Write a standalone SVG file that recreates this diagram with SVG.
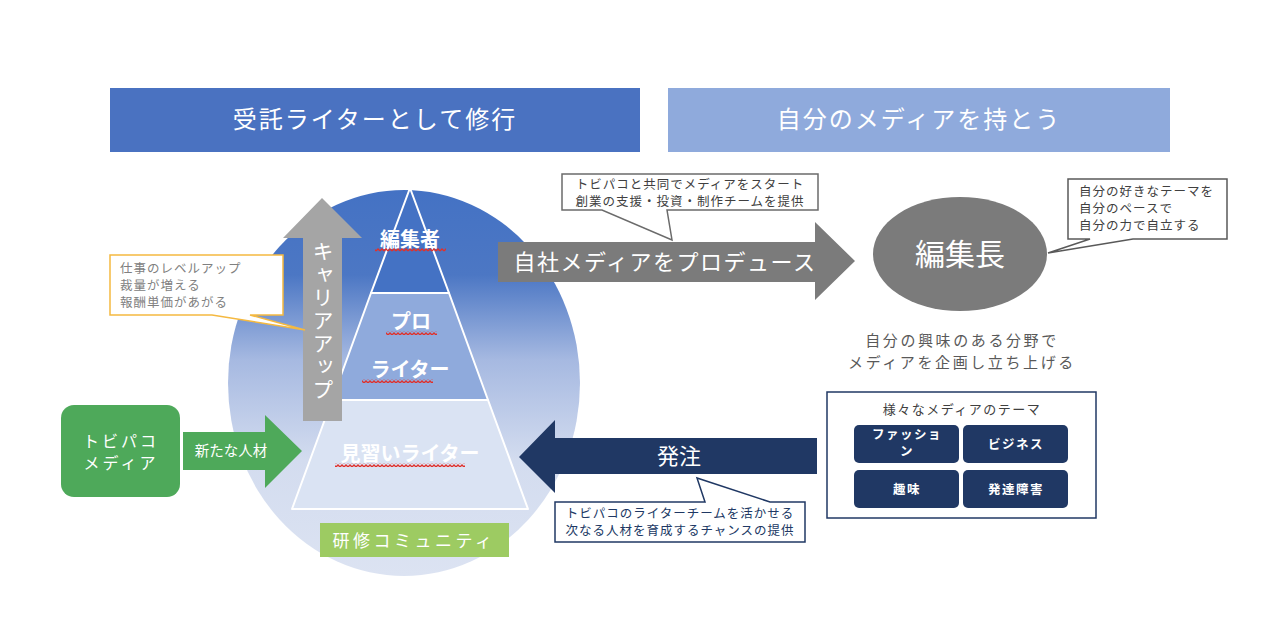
<svg xmlns="http://www.w3.org/2000/svg" width="1280" height="618" viewBox="0 0 1280 618">
<defs>
<style>
text{font-family:"Noto Sans CJK JP","Noto Sans",sans-serif}
.hd{font-size:24px;letter-spacing:2px;text-anchor:middle;fill:#fff}
.co{font-size:12.5px;letter-spacing:1px}
.tier{font-size:20px;font-weight:bold;fill:#fff;text-anchor:middle}
.btn{fill:#203864}
.bt{font-size:12.5px;font-weight:bold;fill:#fff;text-anchor:middle;letter-spacing:1.5px}
.edge{stroke:#fff;stroke-width:2;stroke-linejoin:round}
</style>
<linearGradient id="cg" x1="0" y1="0" x2="0" y2="1">
<stop offset="0" stop-color="#4472c4"/>
<stop offset="0.22" stop-color="#4c77c4"/>
<stop offset="0.44" stop-color="#a6b9e1"/>
<stop offset="0.7" stop-color="#d3dcef"/>
<stop offset="1" stop-color="#dce3f2"/>
</linearGradient>
<pattern id="squig" width="4" height="4" patternUnits="userSpaceOnUse">
<path d="M0,3 L2,1 L4,3" fill="none" stroke="#e0302a" stroke-width="1.3"/>
</pattern>
</defs>
<rect width="1280" height="618" fill="#fff"/>

<g id="header-left">
<rect x="110" y="88" width="530" height="64" fill="#4a72c1"/>
<text class="hd" x="375" y="128">受託ライターとして修行</text>
</g>
<g id="header-right">
<rect x="668" y="88" width="502" height="64" fill="#8faadc"/>
<text class="hd" x="919" y="128">自分のメディアを持とう</text>
</g>

<g id="community-circle">
<ellipse cx="404" cy="383" rx="176" ry="193" fill="url(#cg)"/>
</g>

<g id="pyramid">
<polygon class="edge" points="410,188 371,293 449,293" fill="#4472c4"/>
<polygon class="edge" points="371,293 449,293 488,400 332,400" fill="#8faadc"/>
<polygon class="edge" points="332,400 488,400 528,509 292,509" fill="#dae3f3"/>
<text class="tier" x="410" y="247">編集者</text>
<rect x="375" y="248" width="71" height="4" fill="url(#squig)"/>
<text class="tier" x="411" y="329">プロ</text>
<rect x="386" y="331" width="51" height="4" fill="url(#squig)"/>
<text class="tier" x="410" y="377">ライター</text>
<rect x="362" y="379" width="71" height="4" fill="url(#squig)"/>
<text class="tier" x="410" y="461">見習いライター</text>
<rect x="335" y="463" width="130" height="4" fill="url(#squig)"/>
</g>

<g id="community-label">
<rect x="320" y="523" width="189" height="34" fill="#9dcb62"/>
<text x="414" y="547" font-size="17" letter-spacing="3.5" fill="#fff" text-anchor="middle">研修コミュニティ</text>
</g>

<g id="connectors">
<g id="career-up">
<polygon points="322,198 362,238 342,238 342,421 303,421 303,238 283,238" fill="#a5a5a5"/>
<text x="323" y="321" font-size="21" letter-spacing="2" fill="#fff" text-anchor="middle" style="writing-mode:vertical-rl;text-orientation:upright">キャリアアップ</text>
</g>
<g id="new-talent">
<polygon points="183,432 265,432 265,415 302,451 265,488 265,470 183,470" fill="#4ea95a"/>
<text x="231" y="456" font-size="14.5" fill="#fff" text-anchor="middle">新たな人材</text>
</g>
<g id="produce">
<polygon points="498,242 815,242 815,222 855,261 815,300 815,282 498,282" fill="#7b7b7b"/>
<text x="665" y="270" font-size="22" letter-spacing="1.5" fill="#fff" text-anchor="middle">自社メディアをプロデュース</text>
</g>
<g id="order">
<polygon points="817,438 555,438 555,420 519,457 555,493 555,474 817,474" fill="#203864"/>
<text x="679" y="464" font-size="22" fill="#fff" text-anchor="middle">発注</text>
</g>
</g>

<g id="callout-career">
<path d="M110,255 H283 V315 H250 L305,330 L212,315 H110 Z" fill="#fff" stroke="#f5b940" stroke-width="1.5"/>
<text class="co" x="120" y="273" fill="#808080">仕事のレベルアップ</text>
<text class="co" x="120" y="290" fill="#808080">裁量が増える</text>
<text class="co" x="120" y="307" fill="#808080">報酬単価があがる</text>
</g>

<g id="tobipako-media">
<rect x="61" y="405" width="119" height="92" rx="13" fill="#4ea95a"/>
<text x="121" y="447" font-size="16" letter-spacing="3" fill="#fff" text-anchor="middle">トビパコ</text>
<text x="121" y="469" font-size="16" letter-spacing="3" fill="#fff" text-anchor="middle">メディア</text>
</g>

<g id="callout-produce">
<path d="M562,174 H818 V210 H667 L672,240 L602,210 H562 Z" fill="#fff" stroke="#6b6b6b" stroke-width="1.5"/>
<text class="co" x="690" y="189" fill="#404040" text-anchor="middle">トビパコと共同でメディアをスタート</text>
<text class="co" x="690" y="206" fill="#404040" text-anchor="middle">創業の支援・投資・制作チームを提供</text>
</g>

<g id="chief-editor">
<ellipse cx="960" cy="254" rx="87" ry="57" fill="#7b7b7b"/>
<text x="960" y="265" font-size="30" fill="#fff" text-anchor="middle">編集長</text>
</g>

<g id="callout-chief">
<path d="M1068,179 H1227 V239 H1133 L1048,253 L1090,239 H1068 Z" fill="#fff" stroke="#595959" stroke-width="1.5"/>
<text class="co" x="1079" y="196" fill="#404040">自分の好きなテーマを</text>
<text class="co" x="1079" y="213" fill="#404040">自分のペースで</text>
<text class="co" x="1079" y="230" fill="#404040">自分の力で自立する</text>
</g>

<g id="chief-description">
<text x="962" y="346" font-size="15" letter-spacing="2.6" fill="#595959" text-anchor="middle">自分の興味のある分野で</text>
<text x="962" y="368" font-size="15" letter-spacing="2.6" fill="#595959" text-anchor="middle">メディアを企画し立ち上げる</text>
</g>

<g id="themes">
<rect x="827" y="392" width="269" height="126" fill="#fff" stroke="#203864" stroke-width="1.5"/>
<text x="962" y="414" font-size="13" letter-spacing="1.5" fill="#404040" text-anchor="middle">様々なメディアのテーマ</text>
<rect class="btn" x="854" y="425" width="105" height="38" rx="5"/>
<text class="bt" x="907" y="439">ファッショ</text>
<text class="bt" x="907" y="456">ン</text>
<rect class="btn" x="963" y="425" width="105" height="38" rx="5"/>
<text class="bt" x="1016" y="449">ビジネス</text>
<rect class="btn" x="854" y="470" width="105" height="38" rx="5"/>
<text class="bt" x="907" y="494">趣味</text>
<rect class="btn" x="963" y="470" width="105" height="38" rx="5"/>
<text class="bt" x="1016" y="494">発達障害</text>
</g>

<g id="callout-order">
<path d="M555,502 H705 L697,478 L770,502 H805 V542 H555 Z" fill="#fff" stroke="#203864" stroke-width="1.5"/>
<text class="co" x="680" y="518" fill="#203864" text-anchor="middle">トビパコのライターチームを活かせる</text>
<text class="co" x="680" y="535" fill="#203864" text-anchor="middle">次なる人材を育成するチャンスの提供</text>
</g>
</svg>
